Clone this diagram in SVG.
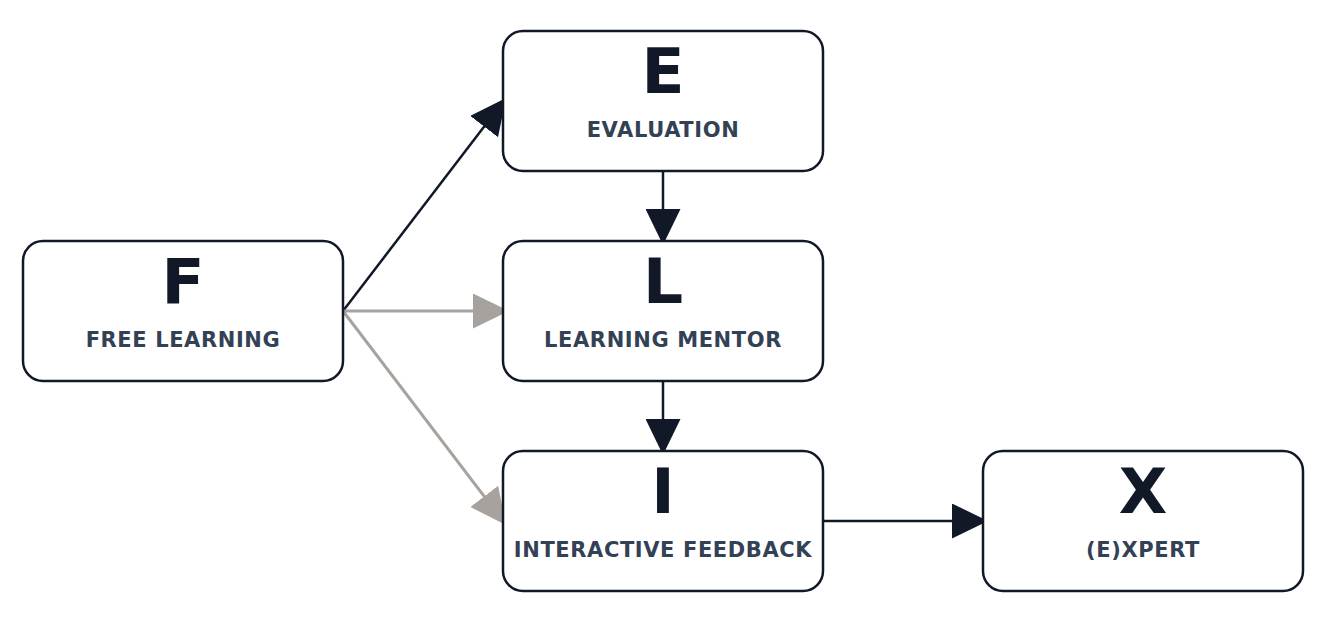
<svg xmlns="http://www.w3.org/2000/svg" width="1342" height="619" viewBox="0 0 1342 619">
<style>
.box{fill:#ffffff;stroke:#111827;stroke-width:2.5}
.big{font-family:"DejaVu Sans",sans-serif;font-weight:bold;font-size:63px;fill:#111827;text-anchor:middle}
.sub{font-family:"DejaVu Sans",sans-serif;font-weight:bold;font-size:21px;fill:#334155;text-anchor:middle;letter-spacing:0.6px}
.dk{stroke:#111827;stroke-width:2.5;fill:none}
.gr{stroke:#a8a29e;stroke-width:3;fill:none}
</style>
<defs>
<marker id="ad" markerUnits="userSpaceOnUse" markerWidth="36" markerHeight="35" refX="36" refY="17.5" orient="auto" viewBox="0 0 36 35"><path d="M0,0 L36,17.5 L0,35 z" fill="#111827"/></marker>
<marker id="ag" markerUnits="userSpaceOnUse" markerWidth="36" markerHeight="35" refX="36" refY="17.5" orient="auto" viewBox="0 0 36 35"><path d="M0,0 L36,17.5 L0,35 z" fill="#a8a29e"/></marker>
</defs>
<g id="connectors">
<line class="dk" x1="343" y1="311" x2="506" y2="98" marker-end="url(#ad)"/>
<line class="gr" x1="343" y1="311" x2="509" y2="311" marker-end="url(#ag)"/>
<line class="gr" x1="343" y1="311" x2="506" y2="525" marker-end="url(#ag)"/>
<line class="dk" x1="663" y1="171" x2="663" y2="245" marker-end="url(#ad)"/>
<line class="dk" x1="663" y1="381" x2="663" y2="455" marker-end="url(#ad)"/>
<line class="dk" x1="823" y1="521" x2="988" y2="521" marker-end="url(#ad)"/>
</g>
<g id="node-F">
<rect class="box" x="23" y="241" width="320" height="140" rx="20"/>
<text class="big" x="183" y="303">F</text>
<text class="sub" x="183" y="347">FREE LEARNING</text>
</g>
<g id="node-E">
<rect class="box" x="503" y="31" width="320" height="140" rx="20"/>
<text class="big" x="663" y="93">E</text>
<text class="sub" x="663" y="137">EVALUATION</text>
</g>
<g id="node-L">
<rect class="box" x="503" y="241" width="320" height="140" rx="20"/>
<text class="big" x="663" y="303">L</text>
<text class="sub" x="663" y="347">LEARNING MENTOR</text>
</g>
<g id="node-I">
<rect class="box" x="503" y="451" width="320" height="140" rx="20"/>
<text class="big" x="663" y="513">I</text>
<text class="sub" x="663" y="557">INTERACTIVE FEEDBACK</text>
</g>
<g id="node-X">
<rect class="box" x="983" y="451" width="320" height="140" rx="20"/>
<text class="big" x="1143" y="513">X</text>
<text class="sub" x="1143" y="557">(E)XPERT</text>
</g>
</svg>
